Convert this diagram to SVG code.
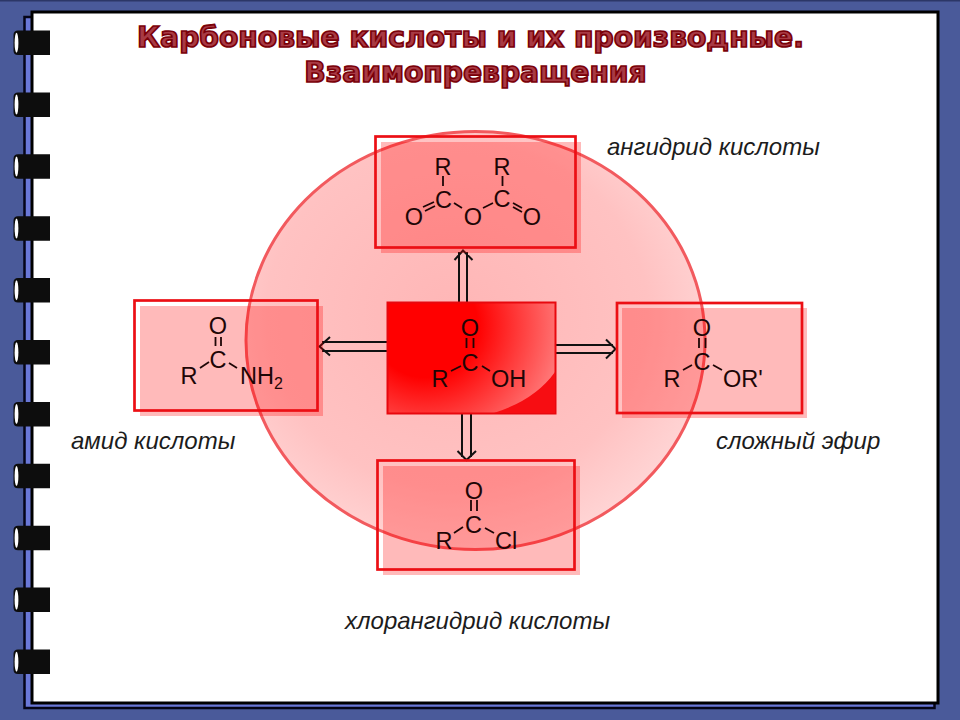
<svg xmlns="http://www.w3.org/2000/svg" width="960" height="720" viewBox="0 0 960 720">
<style>
.ring{fill:#0d0d0d}
.hole{fill:#fff}
.title{font:bold 28.2px "DejaVu Sans",sans-serif;fill:#a83a44;stroke:#7a0008;stroke-width:1.7;text-anchor:middle}
.lab{font:italic 24px "Liberation Sans",Arial,sans-serif;fill:#1c1c1c}
.ch{font:23.5px "Liberation Sans",Arial,sans-serif;fill:#1e0606}
.m{text-anchor:middle}
.bond{stroke:#1e0606;stroke-width:1.8;fill:none}
.arr{stroke:#111;stroke-width:2;fill:none}
.soft{fill:#ff0000;fill-opacity:.27}
.edge{fill:none;stroke:#ec0f14;stroke-width:2.7}
</style>
<defs>
<radialGradient id="disc" cx="46%" cy="44%" r="64%"><stop offset="0" stop-color="#ffb6b6"/><stop offset=".65" stop-color="#ffc2c2"/><stop offset="1" stop-color="#ffdcdc"/></radialGradient>
<radialGradient id="core" gradientUnits="userSpaceOnUse" cx="425" cy="325" r="150"><stop offset="0" stop-color="#ff0000"/><stop offset=".35" stop-color="#ff0000"/><stop offset="1" stop-color="#ff8a8a"/></radialGradient>
<g id="r"><path class="ring" d="M18 0H50V24.500H18Q13.500 24.500 13.500 20V4.500Q13.500 0 18 0Z"/><ellipse class="hole" cx="16.500" cy="12.200" rx="1.900" ry="10"/></g>
</defs>
<rect width="960" height="720" fill="#4a5a9a"/>
<rect width="960" height="1.500" fill="#2c3767"/>
<rect x="24.500" y="17" width="910" height="691" fill="#6a78d8" stroke="#050518" stroke-width="2.500"/>
<rect x="32" y="12" width="906" height="691" fill="#fff" stroke="#000" stroke-width="3"/>
<use href="#r" y="30.500"/><use href="#r" y="92.400"/><use href="#r" y="154.300"/><use href="#r" y="216.200"/><use href="#r" y="278.100"/><use href="#r" y="340"/><use href="#r" y="401.900"/><use href="#r" y="463.800"/><use href="#r" y="525.700"/><use href="#r" y="587.600"/><use href="#r" y="649.500"/>
<text class="title" x="470.500" y="47">Карбоновые кислоты и их производные.</text>
<text class="title" x="475.500" y="82">Взаимопревращения</text>
<ellipse id="disc-shape" cx="475.500" cy="340.500" rx="229.500" ry="209" fill="url(#disc)" stroke="#f25a5e" stroke-width="3"/>
<g id="connectors">
<path class="arr" d="M459 302V252M467 302V252M454.500 260L463 250.500L472.500 260"/>
<path class="arr" d="M387 342H322M387 351H322M330 337L319.500 346.500L330 355.500"/>
<path class="arr" d="M555 345H613M555 353H613M606 339.500L615.500 349L606 358.500"/>
<path class="arr" d="M462 414V457M471 414V457M457.500 451L466.500 460L476 451"/>
</g>
<g id="anhydride">
<rect class="soft" x="381" y="142" width="200" height="111"/>
<rect class="edge" x="375.500" y="136.500" width="200" height="111"/>
<path class="bond" d="M443 176V186M423 207L434 202M425 211L435 206M454 203L462 208M483 208L493 203M502.500 176V186M513 203L522 208M513 207L522 212"/>
<text class="ch m" x="443" y="175">R</text><text class="ch m" x="502" y="175">R</text>
<text class="ch m" x="443.500" y="208">C</text><text class="ch m" x="502" y="207">C</text>
<text class="ch m" x="414" y="225">O</text><text class="ch m" x="473" y="225">O</text><text class="ch m" x="532" y="225">O</text>
<text class="lab" x="607" y="155">ангидрид кислоты</text>
</g>
<g id="amide">
<rect class="soft" x="140" y="306" width="183" height="110"/>
<rect class="edge" x="134.500" y="300.500" width="183" height="110"/>
<path class="bond" d="M215.500 337V346M221 337V346M200 368L209 362M229 363L237 368"/>
<text class="ch m" x="218" y="334">O</text><text class="ch m" x="218" y="368">C</text><text class="ch m" x="189" y="384">R</text>
<text class="ch" x="240" y="384">NH<tspan font-size="16" dy="5">2</tspan></text>
<text class="lab" x="71" y="449">амид кислоты</text>
</g>
<g id="acid">
<rect x="387.500" y="302.500" width="168" height="111" fill="url(#core)" stroke="#e8080e" stroke-width="2"/>
<path d="M555 372Q535 400 494 413H555Z" fill="#f70d12"/>
<path class="bond" d="M466.500 338V348M473.500 338V348M451 371L461 366M482 366L490 371"/>
<text class="ch m" x="470" y="336">O</text><text class="ch m" x="470" y="371">C</text><text class="ch m" x="440" y="387">R</text><text class="ch" x="491" y="387">OH</text>
</g>
<g id="ester">
<rect class="soft" x="622" y="308" width="185" height="110"/>
<rect class="edge" x="617" y="303" width="185" height="110"/>
<path class="bond" d="M699 338V348M705.500 338V348M683 370L692 365M713 365L722 370"/>
<text class="ch m" x="702" y="336">O</text><text class="ch m" x="702" y="370">C</text><text class="ch m" x="672" y="387">R</text><text class="ch" x="723" y="387">OR'</text>
<text class="lab" x="716" y="449">сложный эфир</text>
</g>
<g id="chloride">
<rect class="soft" x="383" y="466" width="197" height="109"/>
<rect class="edge" x="377.500" y="460.500" width="197" height="109"/>
<path class="bond" d="M471 500V511M477 500V511M454 533L463 527M485 528L494 533"/>
<text class="ch m" x="474" y="499">O</text><text class="ch m" x="473.500" y="533">C</text><text class="ch m" x="444" y="549">R</text><text class="ch" x="495" y="549">Cl</text>
<text class="lab" x="345" y="629">хлорангидрид кислоты</text>
</g>
</svg>
